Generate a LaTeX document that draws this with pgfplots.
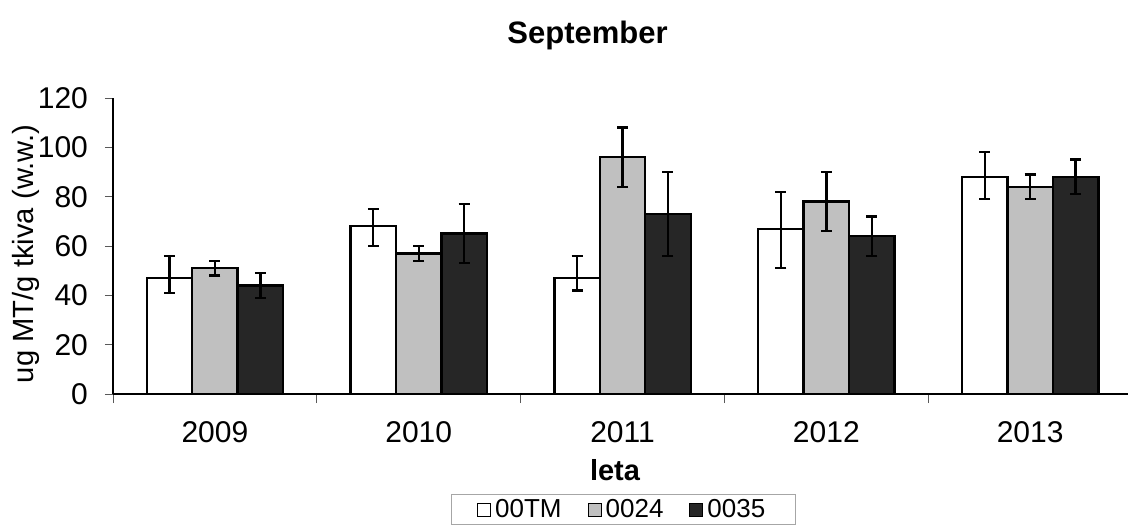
\documentclass[border=0pt]{standalone}
\usepackage{fontspec}
\setmainfont{Liberation Sans}
\usepackage{pgfplots}
\pgfplotsset{compat=1.18}
\usepackage{pgfplotstable}

\pgfplotstableread{
x y ep em
0 47 9 6
1 68 7 8
2 47 9 5
3 67 15 16
4 88 10 9
}\dataA
\pgfplotstableread{
x y ep em
0 51 3 3
1 57 3 3
2 96 12 12
3 78 12 12
4 84 5 5
}\dataB
\pgfplotstableread{
x y ep em
0 44 5 5
1 65 12 12
2 73 17 17
3 64 8 8
4 88 7 7
}\dataC

\definecolor{gbar}{RGB}{192,192,192}
\definecolor{kbar}{RGB}{38,38,38}

\begin{document}
\begin{tikzpicture}[x=1pt,y=1pt]
\path[use as bounding box] (0,0) rectangle (564.5,263.5);
\begin{axis}[
  at={(56.5pt,66.5pt)}, anchor=south west,
  scale only axis, width=507.5pt, height=148pt,
  xmin=-0.5, xmax=4.48, ymin=0, ymax=120,
  axis lines*=left,
  axis line style={black, line width=0.6pt},
  ytick={0,20,...,120},
  xtick={0,1,2,3,4},
  xticklabels={2009,2010,2011,2012,2013},
  minor xtick={-0.5,0.5,1.5,2.5,3.5},
  tick align=outside,
  major tick length=4pt, minor tick length=4.5pt,
  major x tick style={draw=none},
  minor x tick style={draw=gray!70!black, line width=0.5pt},
  y tick style={draw=gray!70!black, line width=0.5pt},
  /pgf/number format/assume math mode=true,
  tick label style={font=\fontsize{15}{18}\selectfont},
  yticklabel style={xshift=-5pt},
  xticklabel style={yshift=-6pt},
  ybar=0pt,
  bar width=0.223,
  clip=false,
  error bars/y dir=both,
  error bars/y explicit,
  error bars/error mark options={rotate=90, line width=1.2pt, mark size=2.75pt, black},
  error bars/error bar style={line width=1.2pt, black},
  legend columns=3,
  legend style={at={(0.3327,-0.3395)}, anchor=north west,
    draw=gray!70, line width=0.5pt,
    font=\fontsize{13}{15}\selectfont,
    inner xsep=13pt, inner ysep=0pt,
    /tikz/every even column/.append style={column sep=11pt}},
  legend image code/.code={\draw[#1, draw=black, line width=0.5pt] (0pt,-3.25pt) rectangle (6.5pt,3.25pt);},
]
\addplot[fill=white, draw=black, line width=1.2pt, bar shift=-0.223] table[x=x, y=y, y error plus=ep, y error minus=em] {\dataA};
\addplot[fill=gbar, draw=black, line width=1.2pt, bar shift=0] table[x=x, y=y, y error plus=ep, y error minus=em] {\dataB};
\addplot[fill=kbar, draw=black, line width=1.2pt, bar shift=0.223] table[x=x, y=y, y error plus=ep, y error minus=em] {\dataC};
\legend{00TM,0024,0035}
\end{axis}
\node[font=\bfseries\fontsize{15.5}{18}\selectfont, anchor=base] at (293.75,242) {September};
\node[rotate=90, anchor=base, font=\fontsize{14.6}{18}\selectfont] at (16.5,136.5) {ug MT/g tkiva (w.w.)};
\node[font=\bfseries\fontsize{14.5}{18}\selectfont, anchor=base] at (307.5,23.5) {leta};
\end{tikzpicture}
\end{document}
